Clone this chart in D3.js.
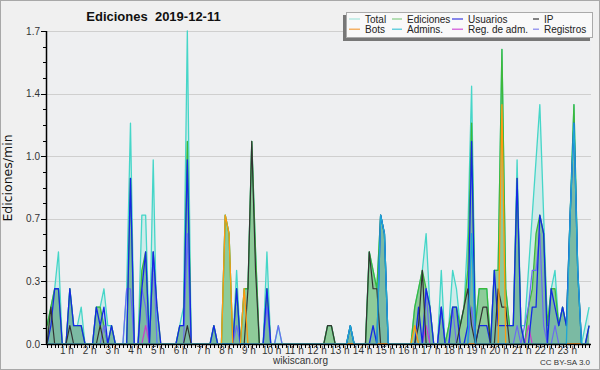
<!DOCTYPE html>
<html><head><meta charset="utf-8">
<script src="https://cdn.jsdelivr.net/npm/d3@7"></script>
<style>body{margin:0;background:#f0f0f0;} svg{display:block;}</style>
</head><body><svg id="c" width="600" height="370"></svg>
<script>
const title = "Ediciones  2019-12-11";
const yTitle = "Ediciones/min";
const yMax = 1.7;
const yTickValues = [0, 0.34, 0.68, 1.02, 1.36, 1.7];
const yTickLabels = ["0.0", "0.3", "0.7", "1.0", "1.4", "1.7"];
const hourLabels = d3.range(1, 24).map(h => h + " h");
const seriesNames = ["Total", "Ediciones", "Usuarios", "IP", "Bots", "Admins.", "Reg. de adm.", "Registros"];

// 10-minute bins, 6 per hour (rows = hours 0..23)
const total = [
 0.1,0.2,0.3,0.5,0,0,  0.3,0.1,0.1,0.2,0,0,  0,0.2,0.2,0.3,0.1,0.1,  0,0,0,0.3,1.2,0,
 0,0.7,0.7,0,1.0,0,  0,0,0,0,0,0.1,  0.2,1.7,0,0,0,0,  0,0,0.1,0,0,0.7,
 0.6,0,0.4,0,0.3,0.3,  1.1,0.5,0,0,0.5,0,  0,0.1,0,0,0,0,  0,0,0,0,0,0,
 0,0,0.1,0.1,0,0,  0,0,0.1,0,0,0,  0,0.5,0.4,0.3,0.7,0.6,  0,0,0,0,0,0,
 0,0.2,0.3,0.4,0.6,0.2,  0,0,0.4,0,0.1,0.4,  0.3,0.1,0.2,0.6,1.4,0.1,  0.3,0.3,0.3,0,0.4,0.4,
 1.6,0.3,0.1,0.1,1.0,0.1,  0.1,0.4,0.7,1.0,1.3,0.7,  0.1,0.3,0.4,0.1,0.2,0.1,  0.7,1.3,0.4,0,0.1,0.2
];
const ediciones = [
 0.1,0.2,0.3,0.3,0,0,  0.3,0.1,0.1,0.1,0,0,  0,0.2,0.2,0.1,0,0.1,  0,0,0,0,0.9,0,
 0,0.4,0.5,0,0.5,0.2,  0,0,0,0,0,0.1,  0.1,1.1,0,0,0,0,  0,0,0.1,0,0,0.7,
 0.6,0,0.3,0,0.3,0.3,  1.1,0.5,0,0,0.3,0,  0,0,0,0,0,0,  0,0,0,0,0,0,
 0,0,0.1,0.1,0,0,  0,0,0.1,0,0,0,  0,0.5,0.4,0.3,0.7,0.6,  0,0,0,0,0,0,
 0,0.2,0.3,0.4,0.3,0.2,  0,0,0.2,0,0.1,0.2,  0.2,0.1,0.2,0.4,1.2,0.1,  0.3,0.3,0.3,0,0.4,0.4,
 1.6,0.3,0.1,0.1,0.9,0.1,  0,0.2,0.3,0.6,0.7,0.6,  0.1,0.3,0.3,0.1,0.2,0.1,  0.7,1.3,0.4,0,0,0.1
];
const usuarios = [
 0,0.1,0.3,0.3,0,0,  0.3,0.1,0.1,0.1,0,0,  0,0.2,0.1,0.2,0,0.1,  0,0,0,0,0.9,0,
 0,0.3,0.5,0,0.5,0.2,  0,0,0,0,0,0.1,  0.1,1.0,0,0,0,0,  0,0,0.1,0,0,0,
 0,0,0.3,0,0,0,  0,0,0,0,0.3,0,  0,0,0,0,0,0,  0,0,0,0,0,0,
 0,0,0,0,0,0,  0,0,0.1,0,0,0,  0,0,0.1,0,0.7,0.6,  0,0,0,0,0,0,
 0,0,0.2,0,0.3,0.2,  0,0,0.2,0,0,0.2,  0.2,0,0,0.1,1.1,0,  0.1,0.1,0.1,0,0.4,0.1,
 0.1,0.1,0.1,0.1,0.9,0.1,  0,0,0.2,0.2,0.7,0.6,  0,0.3,0.2,0.1,0.2,0.1,  0.7,1.2,0.4,0,0,0.1
];
const ip = [
 0,0.2,0,0,0,0,  0.1,0,0,0,0,0,  0,0,0.1,0,0,0,  0,0,0,0,0,0,
 0,0,0,0,0,0,  0,0,0,0,0,0,  0,0.1,0,0,0,0,  0,0,0,0,0,0,
 0,0,0,0,0,0.3,  1.1,0.4,0,0,0,0,  0,0,0,0,0,0,  0,0,0,0,0,0,
 0,0,0.1,0.1,0,0,  0,0,0,0,0,0,  0,0.5,0.3,0.3,0,0,  0,0,0,0,0,0,
 0,0,0.1,0.4,0,0,  0,0,0,0,0,0,  0,0.1,0.2,0.3,0.1,0,  0.1,0.2,0.2,0,0,0.3,
 0.2,0.2,0,0,0,0,  0,0,0,0,0,0,  0,0,0,0,0,0,  0,0,0,0,0,0
];
const bots = [
 0,0,0,0,0,0,  0,0,0,0,0,0,  0,0,0,0,0,0,  0,0,0,0,0,0,
 0,0,0,0,0,0,  0,0,0,0,0,0,  0,0,0,0,0,0,  0,0,0,0,0,0.7,
 0.6,0,0,0,0.3,0,  0,0,0,0,0,0,  0,0,0,0,0,0,  0,0,0,0,0,0,
 0,0,0,0,0,0,  0,0,0,0,0,0,  0,0,0,0,0,0,  0,0,0,0,0,0,
 0,0.1,0,0,0,0,  0,0,0,0,0,0,  0,0,0,0,0,0,  0,0,0,0,0,0,
 1.3,0,0,0,0,0,  0,0,0,0,0,0,  0,0,0,0,0,0,  0,0,0,0,0,0
];
const admins = [
 0,0,0,0,0,0,  0,0,0,0,0,0,  0,0,0,0,0,0,  0,0,0,0,0,0,
 0,0,0,0,0,0,  0,0,0,0,0,0,  0,0,0,0,0,0,  0,0,0,0,0,0,
 0,0,0,0,0,0,  0,0,0,0,0,0,  0,0,0,0,0,0,  0,0,0,0,0,0,
 0,0,0,0,0,0,  0,0,0.1,0,0,0,  0,0,0,0,0.7,0.6,  0,0,0,0,0,0,
 0,0,0,0,0,0,  0,0,0,0,0,0,  0,0,0,0,0.6,0,  0,0,0,0,0,0,
 0,0,0,0,0,0,  0,0,0,0,0,0,  0,0,0,0,0,0,  0.7,1.2,0.4,0,0,0
];
const regAdm = [
 0,0,0,0,0,0,  0,0,0,0,0,0,  0,0,0,0,0,0,  0,0,0,0,0,0,
 0,0,0.1,0,0,0,  0,0,0,0,0,0,  0,0,0,0,0,0,  0,0,0,0,0,0,
 0,0,0,0,0,0,  0,0,0,0,0,0,  0,0,0,0,0,0,  0,0,0,0,0,0,
 0,0,0,0,0,0,  0,0,0,0,0,0,  0,0,0,0,0,0,  0,0,0,0,0,0,
 0,0,0,0,0.1,0,  0,0,0,0,0,0,  0,0,0,0,0,0,  0,0,0,0,0,0,
 0,0,0,0,0,0,  0,0.1,0,0,0,0,  0,0,0,0,0,0,  0,0,0,0,0,0
];
const registros = [
 0,0,0,0,0,0,  0,0,0,0,0,0,  0,0,0,0.1,0,0,  0,0,0,0.3,0.3,0,
 0,0.3,0.2,0,0.5,0,  0,0,0,0,0,0,  0,0.6,0,0,0,0,  0,0,0,0,0,0,
 0,0,0.1,0,0,0,  0,0,0,0,0.2,0,  0,0.1,0,0,0,0,  0,0,0,0,0,0,
 0,0,0,0,0,0,  0,0,0,0,0,0,  0,0,0,0,0,0,  0,0,0,0,0,0,
 0,0,0,0,0.3,0,  0,0,0.2,0,0,0.2,  0,0,0,0,0.2,0,  0,0,0,0,0,0,
 0,0,0,0,0.1,0,  0.1,0.2,0.4,0.4,0.6,0.1,  0,0,0.1,0,0,0,  0,0,0,0,0,0
];

const W = 600, H = 370;
const plot = {left: 46, right: 591, top: 31, bottom: 344};
const svg = d3.select("#c");
const font = "'Liberation Sans', Arial, sans-serif";

svg.append("rect").attr("x", 0.5).attr("y", 0.5).attr("width", W - 1).attr("height", H - 1)
  .attr("fill", "#f0f0f0").attr("stroke", "#a8a8a8");
svg.append("rect").attr("x", plot.left).attr("y", plot.top).attr("width", plot.right - plot.left)
  .attr("height", plot.bottom - plot.top).attr("fill", "#eeeff1");

const x = d3.scaleLinear().domain([0, 1440]).range([45.2, plot.right]);
const y = d3.scaleLinear().domain([0, yMax]).range([plot.bottom, plot.top]);
const xi = i => x(i * 10 + 5);

// gridlines
svg.append("g").selectAll("line").data(yTickValues.slice(1)).join("line")
  .attr("x1", plot.left).attr("x2", plot.right)
  .attr("y1", d => Math.round(y(d)) + 0.5).attr("y2", d => Math.round(y(d)) + 0.5)
  .attr("stroke", "#cfcfcf").attr("stroke-width", 1);

const g = svg.append("g");
const area = d3.area().x((d, i) => xi(i)).y0(y(0)).y1(d => y(d));
const line = d3.line().x((d, i) => xi(i)).y(d => y(d));

g.append("path").attr("d", area(total)).attr("fill", "rgba(150,228,222,0.35)");
g.append("path").attr("d", area(ediciones)).attr("fill", "rgba(95,180,95,0.58)");
g.append("path").attr("d", area(usuarios)).attr("fill", "rgba(40,110,210,0.18)");

const lines = [
  [total, "#45d6c8", 1.3],
  [ediciones, "#3cb83c", 1.3],
  [registros, "#6b6bf0", 1.2],
  [regAdm, "#cc3ccc", 1.2],
  [usuarios, "#1428e6", 1.3],
  [ip, "#333333", 1.2],
  [bots, "#ff9a10", 1.3],
  [admins, "#1ea6d6", 1.3]
];
lines.forEach(([data, col, w]) => {
  g.append("path").attr("d", line(data)).attr("fill", "none")
    .attr("stroke", col).attr("stroke-width", w).attr("stroke-linejoin", "round");
});

// y axis
const yMinor = d3.range(0, 21).map(k => k * yMax / 20);
svg.append("g").selectAll("line").data(yMinor).join("line")
  .attr("x1", (d, k) => k % 4 === 0 ? 41 : 43).attr("x2", plot.left)
  .attr("y1", d => Math.round(y(d)) + 0.5).attr("y2", d => Math.round(y(d)) + 0.5)
  .attr("stroke", "#000").attr("stroke-width", 1);
svg.append("line").attr("x1", 46.5).attr("x2", 46.5).attr("y1", plot.top).attr("y2", plot.bottom + 1)
  .attr("stroke", "#000").attr("stroke-width", 1.5);
svg.append("g").selectAll("text").data(yTickValues).join("text")
  .attr("x", 40).attr("y", d => y(d) + 3.5).attr("text-anchor", "end")
  .attr("font-family", font).attr("font-size", 10).attr("fill", "#333")
  .text((d, k) => yTickLabels[k]);

// x axis
svg.append("g").selectAll("line").data(d3.range(0, 144)).join("line")
  .attr("x1", i => Math.round(xi(i)) + 0.5).attr("x2", i => Math.round(xi(i)) + 0.5)
  .attr("y1", plot.bottom).attr("y2", plot.bottom + 4)
  .attr("stroke", "#000").attr("stroke-width", 1);
svg.append("line").attr("x1", plot.left).attr("x2", plot.right).attr("y1", plot.bottom + 0.5).attr("y2", plot.bottom + 0.5)
  .attr("stroke", "#000").attr("stroke-width", 1.5);
svg.append("g").selectAll("text").data(hourLabels).join("text")
  .attr("x", (d, k) => x((k + 1) * 60) - 1).attr("y", 354).attr("text-anchor", "middle")
  .attr("font-family", font).attr("font-size", 10).attr("fill", "#333")
  .text(d => d);

// titles
svg.append("text").attr("x", 153.5).attr("y", 20.5).attr("text-anchor", "middle")
  .attr("font-family", font).attr("font-size", 13).attr("font-weight", "bold").attr("fill", "#111")
  .attr("xml:space", "preserve").style("white-space", "pre").text(title);
svg.append("text").attr("transform", "translate(12,178) rotate(-90)").attr("text-anchor", "middle")
  .attr("font-family", "'DejaVu Sans', sans-serif").attr("font-size", 12.5).attr("fill", "#111").text(yTitle);
svg.append("text").attr("x", 300.5).attr("y", 364).attr("text-anchor", "middle")
  .attr("font-family", font).attr("font-size", 10).attr("fill", "#333").text("wikiscan.org");
svg.append("text").attr("x", 590).attr("y", 365).attr("text-anchor", "end")
  .attr("font-family", font).attr("font-size", 8).attr("fill", "#333").text("CC BY-SA 3.0");

// legend
const leg = svg.append("g");
leg.append("rect").attr("x", 343).attr("y", 15).attr("width", 247).attr("height", 26).attr("fill", "#777");
leg.append("rect").attr("x", 346.5).attr("y", 12.5).attr("width", 246).attr("height", 25)
  .attr("fill", "#f9f9f9").attr("stroke", "#aaa");
const legColors = ["#a6e4dc", "#86cc86", "#3a3ae0", "#333333", "#f4a040", "#44c6d8", "#d050d8", "#8585ee"];
const colX = [349, 392, 452, 533];
const textX = [365, 407, 468, 544];
seriesNames.forEach((name, k) => {
  const c = k % 4, r = Math.floor(k / 4);
  const yy = 19 + r * 10.2;
  leg.append("line").attr("x1", colX[c]).attr("x2", textX[c] - 5).attr("y1", yy).attr("y2", yy)
    .attr("stroke", legColors[k]).attr("stroke-width", 1.2);
  leg.append("text").attr("x", textX[c]).attr("y", yy + 3.5)
    .attr("font-family", font).attr("font-size", 10).attr("fill", "#222").text(name);
});
</script></body></html>
